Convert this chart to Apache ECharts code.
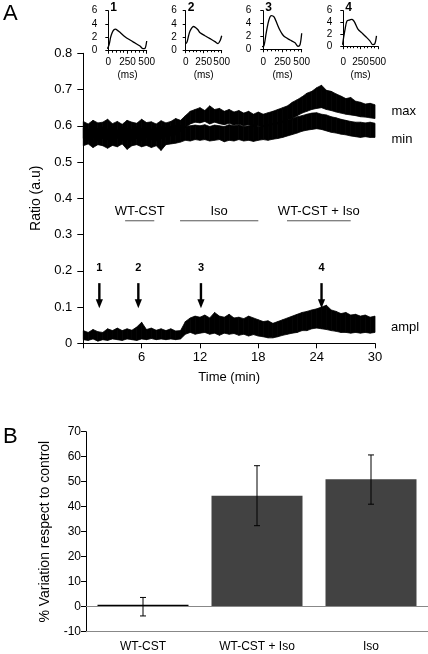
<!DOCTYPE html>
<html><head><meta charset="utf-8">
<script src="https://cdn.jsdelivr.net/npm/echarts@6/dist/echarts.min.js"></script>
<style>html,body{margin:0;padding:0;background:#fff}#c{width:428px;height:654px}</style>
</head><body><div id="c"></div>
<script>
const FONT = '"Liberation Sans", Arial, Helvetica, sans-serif';

// ---------- Panel A: noisy traces (envelopes read every 0.5 min, 0..30 min) ----------
const sampleStepMin = 0.5;
const maxUpper = [0.612,0.605,0.615,0.608,0.61,0.618,0.606,0.612,0.604,0.615,0.61,0.607,0.618,0.609,0.611,0.605,0.614,0.608,0.612,0.62,
  0.615,0.628,0.64,0.645,0.65,0.642,0.655,0.645,0.648,0.64,0.645,0.638,0.642,0.635,0.64,0.632,0.638,0.632,0.636,0.64,
  0.645,0.65,0.655,0.665,0.672,0.68,0.69,0.695,0.705,0.712,0.698,0.695,0.688,0.682,0.675,0.678,0.668,0.665,0.66,0.662,0.658];
const maxLower = [0.565,0.56,0.568,0.558,0.565,0.562,0.555,0.566,0.56,0.563,0.558,0.565,0.56,0.568,0.562,0.558,0.565,0.57,0.572,0.575,
  0.585,0.595,0.605,0.61,0.608,0.612,0.605,0.61,0.606,0.603,0.607,0.602,0.604,0.6,0.603,0.598,0.6,0.597,0.6,0.603,
  0.605,0.61,0.615,0.62,0.628,0.635,0.64,0.645,0.648,0.65,0.645,0.642,0.638,0.635,0.632,0.63,0.628,0.625,0.624,0.622,0.62];
const minUpper = [0.595,0.59,0.598,0.592,0.596,0.59,0.594,0.588,0.596,0.592,0.59,0.597,0.592,0.595,0.59,0.594,0.597,0.595,0.598,0.6,
  0.6,0.598,0.6,0.602,0.6,0.603,0.598,0.602,0.6,0.598,0.603,0.6,0.602,0.598,0.6,0.602,0.598,0.6,0.603,0.605,
  0.608,0.612,0.615,0.62,0.625,0.628,0.632,0.635,0.636,0.632,0.63,0.625,0.622,0.618,0.615,0.612,0.61,0.61,0.608,0.61,0.607];
const minLower = [0.545,0.55,0.54,0.548,0.545,0.538,0.546,0.542,0.55,0.535,0.545,0.548,0.542,0.546,0.54,0.545,0.532,0.548,0.55,0.552,
  0.555,0.56,0.558,0.562,0.56,0.562,0.558,0.56,0.562,0.556,0.56,0.558,0.562,0.558,0.56,0.557,0.56,0.562,0.56,0.563,
  0.565,0.568,0.572,0.576,0.58,0.585,0.588,0.59,0.592,0.59,0.586,0.582,0.58,0.577,0.575,0.572,0.57,0.568,0.57,0.568,0.568];
const amplUpper = [0.035,0.03,0.038,0.032,0.03,0.04,0.035,0.042,0.035,0.04,0.036,0.045,0.058,0.038,0.042,0.036,0.04,0.035,0.04,0.034,
  0.035,0.06,0.07,0.075,0.072,0.078,0.07,0.085,0.075,0.072,0.08,0.07,0.072,0.068,0.075,0.07,0.065,0.06,0.062,0.055,
  0.06,0.065,0.07,0.075,0.08,0.085,0.088,0.092,0.095,0.1,0.105,0.092,0.088,0.082,0.085,0.078,0.08,0.075,0.078,0.072,0.075];
const amplLower = [0.01,0.008,0.012,0.006,0.01,0.008,0.012,0.01,0.008,0.012,0.01,0.008,0.012,0.01,0.013,0.01,0.012,0.01,0.012,0.01,
  0.012,0.025,0.03,0.025,0.028,0.03,0.025,0.028,0.022,0.028,0.025,0.027,0.022,0.025,0.02,0.024,0.02,0.018,0.015,0.015,
  0.018,0.022,0.025,0.028,0.03,0.035,0.035,0.04,0.042,0.04,0.038,0.035,0.033,0.03,0.03,0.028,0.03,0.028,0.03,0.028,0.03];

// treatments and arrows
const treatmentNames = ['WT-CST', 'Iso', 'WT-CST + Iso'];
const treatmentStart = [4.3, 9.95, 20.95];
const treatmentEnd = [7.3, 18.0, 27.5];
const arrowTimes = [1.65, 5.66, 12.1, 24.5];
const arrowLabels = ['1', '2', '3', '4'];

// ---------- Insets: action potential-like traces (ms, value) ----------
const inset1Time = [-95,-70,-40,-15,10,30,50,70,95,120,152,217,283,348,413,452,478,500];
const inset1Value = [0.85,0.6,0.55,0.35,0.9,2.0,2.7,3.1,3.25,3.05,2.75,2.1,1.6,1.15,0.7,0.3,0.35,1.45];
const inset2Time = [-80,-40,-5,20,40,60,85,108,140,170,200,268,338,407,449,478,500];
const inset2Value = [1.1,1.05,1.0,1.3,2.2,2.9,3.4,3.6,3.4,3.1,2.65,2.2,1.75,1.3,1.0,1.45,2.2];
const inset3Time = [-108,-70,-40,0,20,35,61,85,105,140,178,217,250,283,348,413,452,478,500];
const inset3Value = [1.3,0.9,0.6,0.4,1.2,2.35,4.0,5.0,5.25,5.05,4.0,2.95,2.3,1.9,1.45,1.0,0.45,0.7,2.5];
const inset4Time = [-95,-48,-19,5,24,53,97,125,150,169,212,270,327,385,428,457,481];
const inset4Value = [0.55,0.4,0.25,1.5,2.75,4.25,4.45,4.55,4.3,3.95,2.9,2.25,1.6,0.9,0.25,0.4,1.75];
const insetNames = ['1', '2', '3', '4'];

// ---------- Panel B ----------
const bCategories = ['WT-CST', 'WT-CST + Iso', 'Iso'];
const bValues = [0, 44.4, 51.0];
const bErrLow = [-3.7, 32.4, 41.0];
const bErrHigh = [3.7, 56.4, 60.7];

// ---------------- build ----------------
const traceTimes = maxUpper.map((_, i) => i * sampleStepMin);
const pairs = (xs, ys) => xs.map((x, i) => [x, ys[i]]);

// band drawn as quads between consecutive samples, positioned through the axes
function band(lo, hi) {
  const data = [];
  for (let i = 0; i < traceTimes.length - 1; i++) {
    data.push([traceTimes[i], lo[i], hi[i], traceTimes[i + 1], lo[i + 1], hi[i + 1]]);
  }
  return {
    type: 'custom', xAxisIndex: 0, yAxisIndex: 0, silent: true, z: 3,
    data,
    encode: { x: [0, 3], y: [1, 2, 4, 5] },
    renderItem: (params, api) => {
      const a = api.coord([api.value(0), api.value(1)]);
      const b = api.coord([api.value(0), api.value(2)]);
      const c = api.coord([api.value(3), api.value(5)]);
      const d = api.coord([api.value(3), api.value(4)]);
      return { type: 'polygon', shape: { points: [a, b, c, d] },
        style: { fill: '#000', stroke: '#000', lineWidth: 0.8 } };
    }
  };
}

const TREAT_Y = 0.338;
const ARROW_TIP = 0.097;

const insetGrids = [
  { left: 108.3, top: 10.7, width: 38.4, height: 40, yOff: 7, xOff: 2.6 },
  { left: 185.7, top: 10.7, width: 36, height: 39.5, yOff: 5, xOff: 3 },
  { left: 263.3, top: 10.7, width: 38.4, height: 38.6, yOff: 8, xOff: 4 },
  { left: 343.3, top: 10.7, width: 34.5, height: 35.5, yOff: 7, xOff: 7 }
];
const insetData = [pairs(inset1Time, inset1Value), pairs(inset2Time, inset2Value), pairs(inset3Time, inset3Value), pairs(inset4Time, inset4Value)];

const grids = [{ left: 83.3, top: 53.3, width: 291.7, height: 290 }];
const xAxes = [{
  gridIndex: 0, type: 'value', min: 0, max: 30, interval: 6,
  axisLine: { lineStyle: { color: '#000', width: 1 } },
  axisTick: { length: 5, lineStyle: { color: '#000' } },
  axisLabel: { color: '#000', fontSize: 13, fontFamily: FONT, margin: 8, formatter: v => v === 0 ? '' : String(v) },
  splitLine: { show: false },
  name: 'Time (min)', nameLocation: 'middle', nameGap: 28,
  nameTextStyle: { color: '#000', fontSize: 13, fontFamily: FONT }
}];
const yAxes = [{
  gridIndex: 0, type: 'value', min: 0, max: 0.8, interval: 0.1,
  axisLine: { show: true, lineStyle: { color: '#000', width: 1 } },
  axisTick: { show: true, length: 6, lineStyle: { color: '#000' } },
  axisLabel: { color: '#000', fontSize: 13, fontFamily: FONT, margin: 11, formatter: v => v === 0 ? '0' : v.toFixed(1) },
  splitLine: { show: false },
  name: 'Ratio (a.u)', nameLocation: 'middle', nameGap: 40,
  nameTextStyle: { color: '#000', fontSize: 14, fontFamily: FONT }
}];

const series = [
  band(maxLower, maxUpper),
  band(minLower, minUpper),
  band(amplLower, amplUpper),
  {
    type: 'custom', xAxisIndex: 0, yAxisIndex: 0, silent: true,
    data: treatmentNames.map((n, i) => [treatmentStart[i], treatmentEnd[i]]),
    renderItem: (params, api) => {
      const s = api.coord([api.value(0), TREAT_Y]);
      const e = api.coord([api.value(1), TREAT_Y]);
      return { type: 'group', children: [
        { type: 'line', shape: { x1: s[0], y1: s[1], x2: e[0], y2: s[1] }, style: { stroke: '#555', lineWidth: 1 } },
        { type: 'text', x: (s[0] + e[0]) / 2, y: s[1] - 9, style: { text: treatmentNames[params.dataIndex], textAlign: 'center', textVerticalAlign: 'middle', font: '13px ' + FONT, fill: '#000' } }
      ] };
    }
  },
  {
    type: 'custom', xAxisIndex: 0, yAxisIndex: 0, silent: true,
    data: arrowTimes.map(t => [t]),
    renderItem: (params, api) => {
      const p = api.coord([api.value(0), ARROW_TIP]);
      const x = p[0], y = p[1];
      return { type: 'group', children: [
        { type: 'rect', shape: { x: x - 1.2, y: y - 25, width: 2.4, height: 17 }, style: { fill: '#000' } },
        { type: 'polygon', shape: { points: [[x - 3.6, y - 9], [x + 3.6, y - 9], [x, y]] }, style: { fill: '#000' } },
        { type: 'text', x: x, y: y - 40, style: { text: arrowLabels[params.dataIndex], textAlign: 'center', textVerticalAlign: 'middle', font: 'bold 11px ' + FONT, fill: '#000' } }
      ] };
    }
  }
];

insetGrids.forEach((g, k) => {
  const gi = k + 1;
  grids.push({ left: g.left, top: g.top, width: g.width, height: g.height });
  xAxes.push({
    gridIndex: gi, type: 'value', min: 0, max: 500, interval: 250, offset: g.xOff,
    axisLine: { lineStyle: { color: '#000', width: 1 } },
    axisTick: { length: 3, lineStyle: { color: '#000' } },
    minorTick: { show: true, splitNumber: 5, length: 2, lineStyle: { color: '#000' } },
    axisLabel: { color: '#000', fontSize: 10, fontFamily: FONT, margin: 4, hideOverlap: false },
    splitLine: { show: false },
    name: '(ms)', nameLocation: 'middle', nameGap: 17,
    nameTextStyle: { color: '#000', fontSize: 10, fontFamily: FONT }
  });
  yAxes.push({
    gridIndex: gi, type: 'value', min: 0, max: 6, interval: 2, offset: g.yOff,
    axisLine: { show: true, lineStyle: { color: '#000', width: 1 } },
    axisTick: { show: true, length: 3, lineStyle: { color: '#000' } },
    axisLabel: { color: '#000', fontSize: 10, fontFamily: FONT, margin: 4 },
    splitLine: { show: false }
  });
  series.push({
    type: 'line', xAxisIndex: gi, yAxisIndex: gi, data: insetData[k], clip: false,
    showSymbol: false, symbol: 'none', smooth: 0.3,
    lineStyle: { color: '#000', width: 1.3 }
  });
});

// Panel B
const bi = grids.length;
grids.push({ left: 86, top: 431.7, width: 342, height: 200 });
xAxes.push({
  gridIndex: bi, type: 'category', data: bCategories,
  axisLine: { onZero: false, lineStyle: { color: '#888', width: 1 } },
  axisTick: { show: false },
  axisLabel: { color: '#000', fontSize: 12, fontFamily: FONT, margin: 9 }
});
yAxes.push({
  gridIndex: bi, type: 'value', min: -10, max: 70, interval: 10,
  axisLine: { show: true, lineStyle: { color: '#000', width: 1 } },
  axisTick: { show: true, length: 5, lineStyle: { color: '#000' } },
  axisLabel: { color: '#000', fontSize: 12, fontFamily: FONT, margin: 5 },
  splitLine: { show: false },
  name: '% Variation respect to control', nameLocation: 'middle', nameGap: 34,
  nameTextStyle: { color: '#000', fontSize: 14, fontFamily: FONT }
});
series.push({
  type: 'bar', xAxisIndex: bi, yAxisIndex: bi, barWidth: 91, barMinHeight: 2,
  data: bValues.map((v, i) => ({ value: v, itemStyle: { color: v === 0 ? '#000' : '#424242' } })),
  markLine: { silent: true, symbol: ['none', 'none'], label: { show: false },
    lineStyle: { color: '#888', type: 'solid', width: 1 }, data: [{ yAxis: 0 }] }
});
series.push({
  type: 'custom', xAxisIndex: bi, yAxisIndex: bi, silent: true, z: 5,
  data: bCategories.map((c, i) => [i, bErrLow[i], bErrHigh[i]]),
  renderItem: (params, api) => {
    const lo = api.coord([api.value(0), api.value(1)]);
    const hi = api.coord([api.value(0), api.value(2)]);
    const w = 3;
    const st = { stroke: '#000', lineWidth: 1 };
    return { type: 'group', children: [
      { type: 'line', shape: { x1: lo[0], y1: lo[1], x2: hi[0], y2: hi[1] }, style: st },
      { type: 'line', shape: { x1: lo[0] - w, y1: lo[1], x2: lo[0] + w, y2: lo[1] }, style: st },
      { type: 'line', shape: { x1: hi[0] - w, y1: hi[1], x2: hi[0] + w, y2: hi[1] }, style: st }
    ] };
  }
});

const txt = (text, x, y, size) => ({ type: 'text', x, y, silent: true,
  style: { text, font: size + 'px ' + FONT, fill: '#000', textVerticalAlign: 'middle' } });

const graphic = [
  txt('A', 3, 14, 22),
  txt('B', 3, 437, 22),
  txt('max', 391.5, 111.5, 13),
  txt('min', 391.5, 139.5, 13),
  txt('ampl', 391, 327, 13)
];
insetGrids.forEach((g, k) => {
  graphic.push({ type: 'text', x: g.left + 2, y: 8, silent: true,
    style: { text: insetNames[k], font: 'bold 12px ' + FONT, fill: '#000', textVerticalAlign: 'middle' } });
});

const chart = echarts.init(document.getElementById('c'), null, { renderer: 'canvas' });
chart.setOption({
  animation: false,
  backgroundColor: '#fff',
  grid: grids, xAxis: xAxes, yAxis: yAxes, series, graphic
});
</script></body></html>
